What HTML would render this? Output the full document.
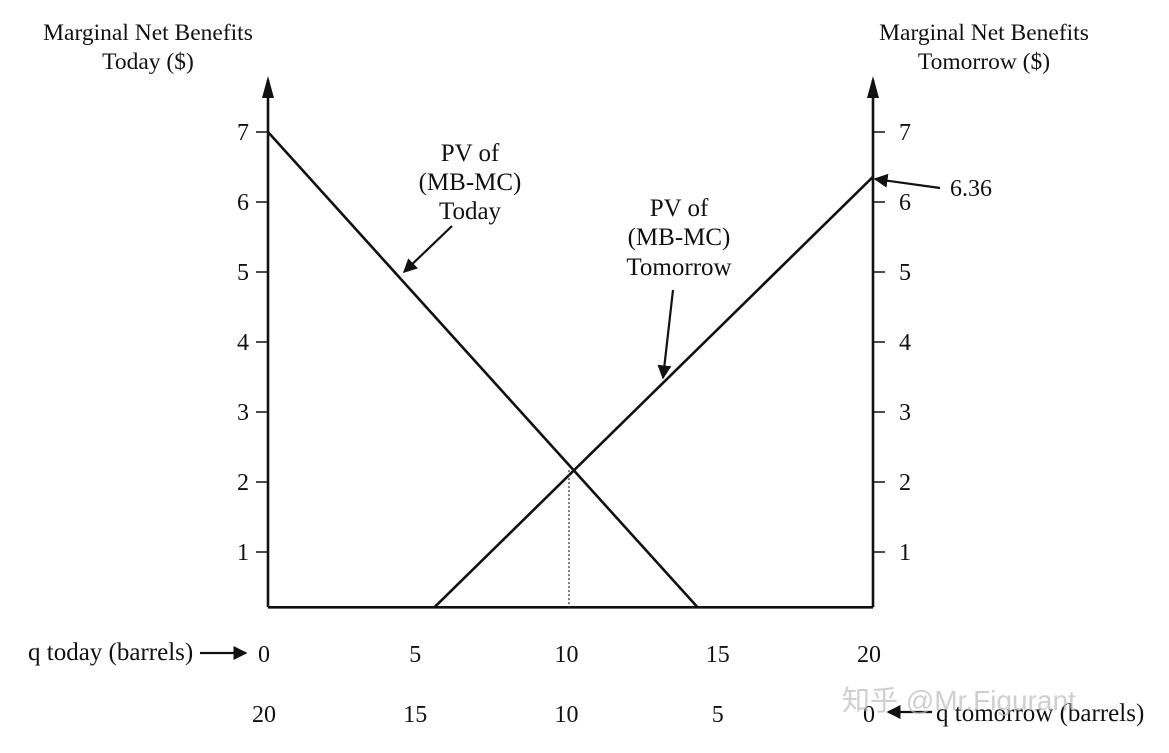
<!DOCTYPE html>
<html><head><meta charset="utf-8">
<style>
html,body{margin:0;padding:0;background:#fff;}
svg{display:block;font-family:"Liberation Serif","Noto Serif CJK SC",serif;}
text{fill:#111;}
</style></head>
<body>
<svg id="chart" width="1169" height="753" viewBox="0 0 1169 753" xmlns="http://www.w3.org/2000/svg">
<defs>
<marker id="ah" viewBox="0 0 10 10" refX="9" refY="5" markerWidth="14" markerHeight="14" markerUnits="userSpaceOnUse" orient="auto"><path d="M0,0 L10,5 L0,10 z" fill="#111"/></marker>
</defs>
<g id="plot"></g>
<text x="148" y="40" text-anchor="middle" font-size="23.5">Marginal Net Benefits</text>
<text x="148" y="69" text-anchor="middle" font-size="23.5">Today ($)</text>
<text x="984" y="40" text-anchor="middle" font-size="23.5">Marginal Net Benefits</text>
<text x="984" y="69" text-anchor="middle" font-size="23.5">Tomorrow ($)</text>
<g font-size="25" text-anchor="middle">
<text x="470" y="161">PV of</text><text x="470" y="190">(MB-MC)</text><text x="470" y="219">Today</text>
</g>
<line x1="452" y1="226" x2="404" y2="272" stroke="#111" stroke-width="2.2" marker-end="url(#ah)"/>
<g font-size="25" text-anchor="middle">
<text x="679" y="216">PV of</text><text x="679" y="245">(MB-MC)</text><text x="679" y="275">Tomorrow</text>
</g>
<line x1="673" y1="290" x2="663" y2="378" stroke="#111" stroke-width="2.2" marker-end="url(#ah)"/>
<text x="950" y="196" font-size="24">6.36</text>
<line x1="940" y1="188" x2="875" y2="179" stroke="#111" stroke-width="2.2" marker-end="url(#ah)"/>
<text x="28" y="660" font-size="25">q today (barrels)</text>
<line x1="200" y1="653" x2="246" y2="653" stroke="#111" stroke-width="2.2" marker-end="url(#ah)"/>
<text x="936" y="721" font-size="25">q tomorrow (barrels)</text>
<line x1="932" y1="712" x2="888" y2="712" stroke="#111" stroke-width="2.2" marker-end="url(#ah)"/>
<text x="842" y="710" font-size="28" font-family="Liberation Sans,Noto Sans CJK SC,sans-serif" style="fill:#bbb;opacity:0.7">知乎 @Mr.Figurant</text>
</svg>
<script>
const yTicks=[1,2,3,4,5,6,7];
const xTodayTicks=[0,5,10,15,20];
const xTomorrowTicks=[20,15,10,5,0];
const todayLine=[[0,7],[14.2,0.21]];
const tomorrowLine=[[5.5,0.21],[20,6.36]];
const intersection=[9.95,2.17];
const baseValue=0.21;

const NS="http://www.w3.org/2000/svg";
const g=document.getElementById('plot');
const X0=268,X1=873;
function xs(q){return X0+(X1-X0)*q/20;}
function ys(v){return 622-70*v;}
function el(tag,attrs){const e=document.createElementNS(NS,tag);for(const k in attrs)e.setAttribute(k,attrs[k]);g.appendChild(e);return e;}
const yb=ys(baseValue);
let e;
e=el('line',{x1:X0,y1:yb,x2:X0,y2:80,stroke:'#111','stroke-width':2.6});


e=el('path',{d:`M${X0-6},98 L${X0},76 L${X0+6},98 z`,fill:'#111'});


e=el('line',{x1:X1,y1:yb,x2:X1,y2:80,stroke:'#111','stroke-width':2.6});


e=el('path',{d:`M${X1-6},98 L${X1},76 L${X1+6},98 z`,fill:'#111'});


e=el('line',{x1:X0,y1:yb,x2:X1,y2:yb,stroke:'#111','stroke-width':2.6});


yTicks.forEach(v=>{
  const y=ys(v);
  let t=el('line',{x1:X0-12,y1:y,x2:X0,y2:y,stroke:'#111','stroke-width':1.5});
  
  
  t=el('line',{x1:X1,y1:y,x2:X1+12,y2:y,stroke:'#111','stroke-width':1.5});
  
  
  let l=el('text',{x:243,y:y+8,'text-anchor':'middle','font-size':24});l.textContent=v;
  
  
  l=el('text',{x:905,y:y+8,'text-anchor':'middle','font-size':24});l.textContent=v;
  
  
});
xTodayTicks.forEach(q=>{
  const l=el('text',{x:xs(q)-4,y:662,'text-anchor':'middle','font-size':24});l.textContent=q;
  
  
});
xTomorrowTicks.forEach((q,i)=>{
  const l=el('text',{x:xs(20-q)-4,y:722,'text-anchor':'middle','font-size':24});l.textContent=q;
  
  
});
e=el('line',{x1:xs(todayLine[0][0]),y1:ys(todayLine[0][1]),x2:xs(todayLine[1][0]),y2:ys(todayLine[1][1]),stroke:'#111','stroke-width':2.6});


e=el('line',{x1:xs(tomorrowLine[0][0]),y1:ys(tomorrowLine[0][1]),x2:xs(tomorrowLine[1][0]),y2:ys(tomorrowLine[1][1]),stroke:'#111','stroke-width':2.6});


e=el('line',{x1:xs(intersection[0]),y1:ys(intersection[1]),x2:xs(intersection[0]),y2:yb,stroke:'#333','stroke-width':1.3,'stroke-dasharray':'2,2'});


</script>
</body></html>
